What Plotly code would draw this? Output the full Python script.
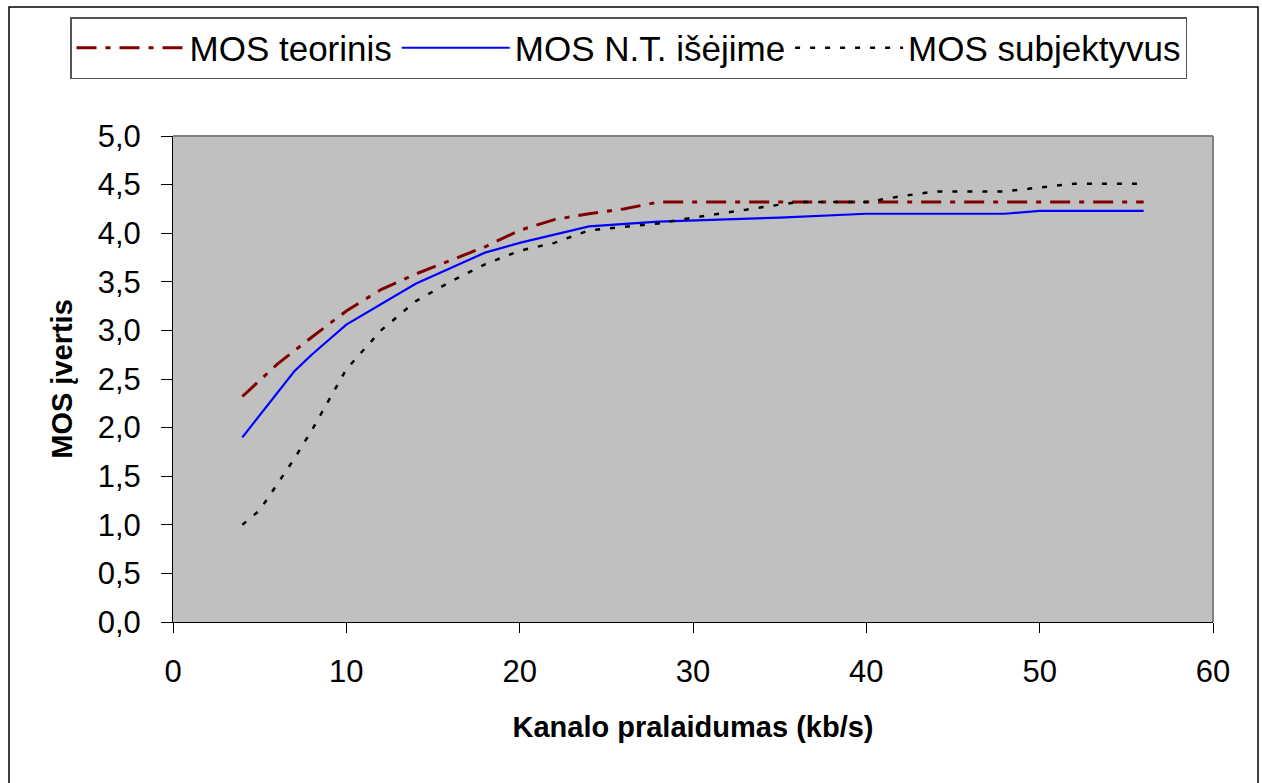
import plotly.graph_objects as go

# Data
x_teor = [4, 6, 8, 10, 12, 14, 16, 18, 20, 22, 24, 26, 28, 56]
y_teor = [2.32, 2.65, 2.93, 3.2, 3.42, 3.58, 3.72, 3.86, 4.03, 4.14, 4.2, 4.25, 4.32, 4.32]

x_nt = [4, 7, 8, 10, 14, 18, 20, 24, 28, 30, 35, 40, 48, 50, 56]
y_nt = [1.9, 2.58, 2.75, 3.06, 3.48, 3.8, 3.9, 4.07, 4.12, 4.13, 4.16, 4.2, 4.2, 4.23, 4.23]

x_subj = [4, 5, 7, 8, 10, 12, 14, 16, 18, 20, 22, 24, 28, 30, 33, 36, 40, 42, 44, 48, 50, 52, 56]
y_subj = [1.0, 1.15, 1.68, 1.97, 2.6, 3.0, 3.3, 3.5, 3.68, 3.82, 3.9, 4.03, 4.1, 4.16, 4.24, 4.32, 4.32, 4.38, 4.43, 4.43, 4.47, 4.51, 4.51]

series_names = ["MOS teorinis", "MOS N.T. išėjime", "MOS subjektyvus"]

x_ticks = [0, 10, 20, 30, 40, 50, 60]
y_ticks = [0.0, 0.5, 1.0, 1.5, 2.0, 2.5, 3.0, 3.5, 4.0, 4.5, 5.0]
y_tick_labels = [f"{v:.1f}".replace(".", ",") for v in y_ticks]

W, H = 1262, 783
L, R, T, B = 173, 49, 136, 161
pw, ph = W - L - R, H - T - B

def px_x(p):
    return (p - L) / pw

def px_y(p):
    return (H - B - p) / ph

fig = go.Figure()
fig.add_trace(go.Scatter(x=x_teor, y=y_teor, mode="lines", name=series_names[0],
                         line=dict(color="#800000", width=3, dash="20px,9px,5px,9px")))
fig.add_trace(go.Scatter(x=x_nt, y=y_nt, mode="lines", name=series_names[1],
                         line=dict(color="#0000FF", width=2.2)))
fig.add_trace(go.Scatter(x=x_subj, y=y_subj, mode="lines", name=series_names[2],
                         line=dict(color="#000000", width=2.5, dash="5px,10px")))

font_family = "Liberation Sans, Arial, sans-serif"

fig.update_layout(
    width=W, height=H,
    margin=dict(l=L, r=R, t=T, b=B),
    paper_bgcolor="white",
    plot_bgcolor="#C0C0C0",
    font=dict(family=font_family, color="black", size=30),
    showlegend=True,
    legend=dict(
        orientation="h",
        x=px_x(70), y=px_y(17), xanchor="left", yanchor="top",
        bordercolor="#555555", borderwidth=1.5, bgcolor="white",
        font=dict(size=35, family=font_family),
        itemwidth=108,
        tracegroupgap=0,
    ),
    xaxis=dict(
        range=[0, 60], tickmode="array", tickvals=x_ticks,
        ticktext=[str(v) for v in x_ticks],
        showgrid=False, zeroline=False,
        showline=True, linecolor="black", linewidth=1,
        ticks="outside", ticklen=10, tickcolor="black", tickwidth=1,
        tickfont=dict(size=31), ticklabelstandoff=12,
        title=dict(text="<b>Kanalo pralaidumas (kb/s)</b>", font=dict(size=29), standoff=28),
    ),
    yaxis=dict(
        range=[0, 5], tickmode="array", tickvals=y_ticks, ticktext=y_tick_labels,
        showgrid=False, zeroline=False,
        showline=True, linecolor="black", linewidth=1,
        ticks="outside", ticklen=11, tickcolor="black", tickwidth=1,
        tickfont=dict(size=31), ticklabelstandoff=14,
        title=dict(text="<b>MOS įvertis</b>", font=dict(size=29), standoff=16),
    ),
    shapes=[
        dict(type="line", xref="paper", yref="paper", x0=0, x1=1, y0=1, y1=1,
             line=dict(color="#808080", width=2)),
        dict(type="line", xref="paper", yref="paper", x0=1, x1=1, y0=0, y1=1,
             line=dict(color="#808080", width=2)),
        dict(type="rect", xref="paper", yref="paper",
             x0=px_x(9), x1=px_x(1258), y0=px_y(790), y1=px_y(7),
             line=dict(color="black", width=1.5), fillcolor="rgba(0,0,0,0)", layer="below"),
    ],
)

fig.write_html("out.html")
